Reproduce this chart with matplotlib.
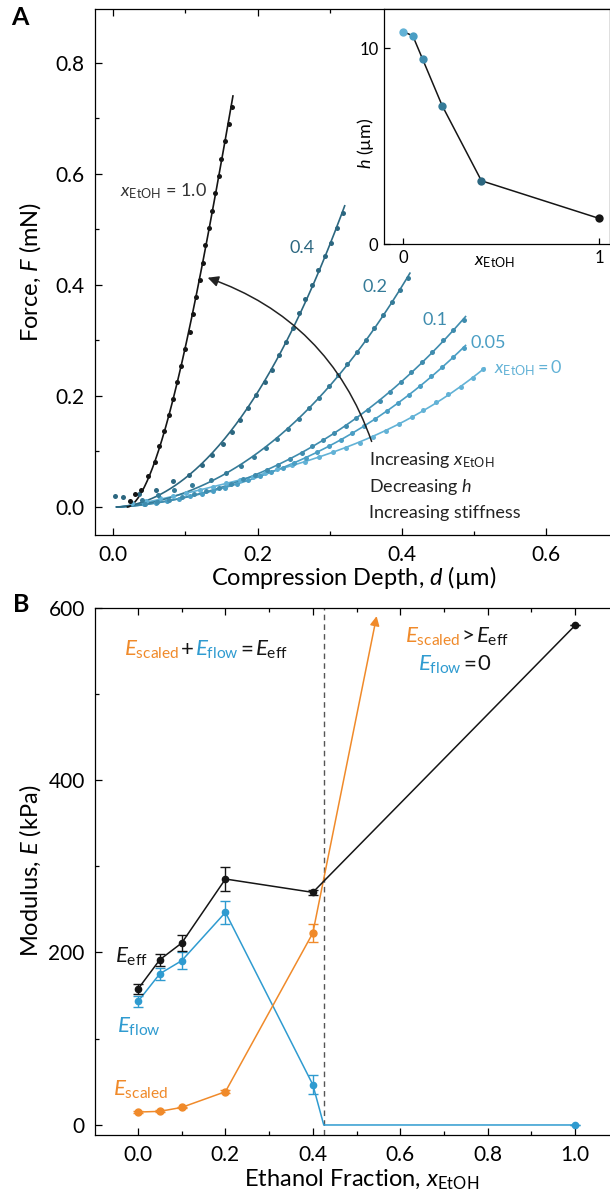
import numpy as np
import matplotlib
matplotlib.use("Agg")
import matplotlib.pyplot as plt
from matplotlib import font_manager as fm
from matplotlib.patches import FancyArrowPatch
from matplotlib.offsetbox import TextArea, HPacker, AnnotationBbox
from matplotlib.ticker import MultipleLocator, FormatStrFormatter


def find_italic(cands):
    for name in cands:
        for f in fm.fontManager.ttflist:
            if f.name == name and f.style == 'italic' and f.weight == 400:
                return name
    return 'DejaVu Sans'


it_family = find_italic(['Lato', 'Carlito', 'Open Sans', 'Noto Sans', 'Roboto',
                         'Liberation Sans', 'DejaVu Sans'])

plt.rcParams['font.family'] = ['Lato', 'DejaVu Sans']
plt.rcParams['mathtext.fontset'] = 'custom'
plt.rcParams['mathtext.rm'] = 'Lato'
plt.rcParams['mathtext.it'] = it_family + ':style=italic:weight=normal'
plt.rcParams['mathtext.bf'] = 'Lato:bold'

# ---- panel A: force vs compression depth ----
d_10 = [0.024, 0.030, 0.039, 0.048, 0.0575, 0.064, 0.071, 0.077, 0.083, 0.089,
        0.0946, 0.100, 0.106, 0.111, 0.115, 0.120, 0.124, 0.128, 0.133, 0.137,
        0.141, 0.146, 0.150, 0.155, 0.160, 0.164]
F_10 = [0.010, 0.023, 0.030, 0.055, 0.081, 0.109, 0.136, 0.166, 0.195, 0.225,
        0.254, 0.285, 0.316, 0.347, 0.378, 0.409, 0.440, 0.471, 0.502, 0.534,
        0.566, 0.596, 0.627, 0.659, 0.690, 0.721]

d_04 = [0.003, 0.014, 0.036, 0.0595, 0.0835, 0.105, 0.1226, 0.137, 0.1517, 0.1646,
        0.176, 0.187, 0.198, 0.2098, 0.2206, 0.2297, 0.240, 0.2486, 0.257, 0.266,
        0.275, 0.284, 0.293, 0.302, 0.310, 0.3187]
F_04 = [0.019, 0.0175, 0.024, 0.031, 0.046, 0.058, 0.076, 0.094, 0.114, 0.1346,
        0.156, 0.179, 0.2018, 0.2246, 0.247, 0.273, 0.297, 0.322, 0.349, 0.375,
        0.400, 0.426, 0.452, 0.475, 0.502, 0.530]

d_02 = [0.040, 0.0627, 0.085, 0.110, 0.136, 0.157, 0.1765, 0.1947, 0.2115, 0.227,
        0.242, 0.2572, 0.2716, 0.2852, 0.2987, 0.311, 0.3245, 0.3375, 0.350, 0.3617,
        0.374, 0.3865, 0.3967, 0.409]
F_02 = [0.013, 0.022, 0.030, 0.0396, 0.0486, 0.0607, 0.0745, 0.0896, 0.1058, 0.122,
        0.140, 0.158, 0.178, 0.196, 0.218, 0.238, 0.2577, 0.280, 0.301, 0.322,
        0.346, 0.370, 0.391, 0.4126]

d_01 = [0.044, 0.061, 0.078, 0.095, 0.112, 0.129, 0.146, 0.163, 0.180, 0.197,
        0.213, 0.229, 0.245, 0.261, 0.276, 0.291, 0.306, 0.322, 0.337, 0.353,
        0.369, 0.384, 0.399, 0.413, 0.428, 0.442, 0.457, 0.471, 0.486]
F_01 = [0.006, 0.009, 0.013, 0.018, 0.023, 0.029, 0.035, 0.042, 0.050, 0.058,
        0.067, 0.076, 0.086, 0.097, 0.109, 0.121, 0.133, 0.146, 0.160, 0.175,
        0.191, 0.208, 0.226, 0.244, 0.262, 0.280, 0.300, 0.318, 0.337]

d_005 = [0.043, 0.059, 0.075, 0.091, 0.107, 0.123, 0.139, 0.155, 0.171, 0.187,
         0.203, 0.219, 0.235, 0.251, 0.267, 0.283, 0.299, 0.315, 0.331, 0.347,
         0.363, 0.379, 0.395, 0.410, 0.425, 0.440, 0.456, 0.470, 0.486]
F_005 = [0.005, 0.008, 0.011, 0.015, 0.019, 0.024, 0.029, 0.035, 0.041, 0.048,
         0.055, 0.063, 0.071, 0.080, 0.089, 0.099, 0.110, 0.121, 0.133, 0.145,
         0.158, 0.172, 0.187, 0.202, 0.218, 0.236, 0.253, 0.270, 0.286]

d_00 = [0.0267, 0.0456, 0.0644, 0.0833, 0.101, 0.120, 0.1387, 0.157, 0.1758, 0.1936,
        0.2098, 0.2276, 0.2475, 0.2663, 0.2852, 0.304, 0.323, 0.3418, 0.3595, 0.378,
        0.3956, 0.4134, 0.4296, 0.447, 0.464, 0.4817, 0.498, 0.5125]
F_00 = [0.0078, 0.0114, 0.0156, 0.0198, 0.0246, 0.0306, 0.0366, 0.0426, 0.0486, 0.0546,
        0.0607, 0.068, 0.075, 0.0816, 0.0906, 0.0985, 0.1068, 0.1159, 0.1267, 0.1375,
        0.1495, 0.1616, 0.1748, 0.1886, 0.203, 0.217, 0.232, 0.248]

# ---- inset: gel height vs ethanol fraction ----
x_etoh = [0, 0.05, 0.1, 0.2, 0.4, 1.0]
h_um = [10.85, 10.63, 9.44, 7.06, 3.23, 1.31]

# ---- panel B: moduli ----
x_B = [0, 0.05, 0.1, 0.2, 0.4, 1.0]
E_eff = [157.7, 191.7, 211.0, 285.2, 269.7, 579.2]
E_eff_err = [6, 7, 9, 14, 3, 0]
x_flow = [0, 0.05, 0.1, 0.2, 0.4, 1.0]
E_flow = [143.3, 175.4, 190.5, 246.5, 46.7, 0.0]
E_flow_err = [6.5, 7, 9.5, 13.5, 11, 0]
x_cut = 0.425
x_scaled = [0, 0.05, 0.1, 0.2, 0.4]
E_scaled = [15.0, 15.8, 20.4, 38.6, 222.6]
E_scaled_err = [1, 1, 1, 2, 10]
arrow_tip = (0.546, 590)

c_A = {'1.0': '#151515', '0.4': '#2c6780', '0.2': '#357b98',
       '0.1': '#3f8cae', '0.05': '#4a9ec4', '0': '#62b2d6'}
orange = '#f08a2a'
blue = '#2f9bd0'
black = '#151515'

series = [('0', d_00, F_00, 0.005), ('0.05', d_005, F_005, 0.005),
          ('0.1', d_01, F_01, 0.005), ('0.2', d_02, F_02, 0.005),
          ('0.4', d_04, F_04, 0.005), ('1.0', d_10, F_10, 0.02)]


def curve_fit_line(d, F, d0):
    # least squares with F = c1*u^1.5 + c2*u^2 + c3*u^3, u = d - d0
    d = np.asarray(d); F = np.asarray(F)
    m = F > 0.03
    u = d[m] - d0
    A = np.column_stack([u ** 1.5, u ** 2, u ** 3])
    coef = np.linalg.lstsq(A, F[m], rcond=None)[0]
    uu = np.linspace(0, d.max() + 0.002 - d0, 200)
    return uu + d0, np.column_stack([uu ** 1.5, uu ** 2, uu ** 3]) @ coef


def style_ax(ax, ls=15):
    for s in ['top', 'bottom', 'left', 'right']:
        ax.spines[s].set_linewidth(0.9)
    ax.spines['right'].set_visible(False)
    ax.tick_params(which='both', direction='in', top=True, right=False, width=0.9,
                   labelsize=ls)
    ax.tick_params(which='major', length=5, pad=7)
    ax.tick_params(which='minor', length=3)


fig = plt.figure(figsize=(6.1, 11.98), dpi=100)

# ================= Panel A =================
axA = fig.add_axes([0.155, 0.5534, 0.845, 0.4391])
for key, d, F, d0 in series:
    xx, yy = curve_fit_line(d, F, d0)
    axA.plot(xx, yy, color=c_A[key], lw=1.2, zorder=2)
    axA.plot(d, F, 'o', color=c_A[key], ms=3.6, mec='none', zorder=3)

axA.set_xlim(-0.0256, 0.688)
axA.set_ylim(-0.0505, 0.897)
axA.xaxis.set_major_locator(MultipleLocator(0.2))
axA.xaxis.set_minor_locator(MultipleLocator(0.1))
axA.yaxis.set_major_locator(MultipleLocator(0.2))
axA.yaxis.set_minor_locator(MultipleLocator(0.1))
axA.xaxis.set_major_formatter(FormatStrFormatter('%.1f'))
axA.yaxis.set_major_formatter(FormatStrFormatter('%.1f'))
style_ax(axA)
axA.set_xlabel('Compression Depth, $d$ (µm)', fontsize=17)
axA.set_ylabel('Force, $F$ (mN)', fontsize=17)
axA.xaxis.set_label_coords(0.503, -0.08)
axA.xaxis.label.set_va('center')
axA.yaxis.set_label_coords(-0.125, 0.5)
axA.yaxis.label.set_va('center')

axA.text(0.070, 0.568, r'$x_{\mathrm{EtOH}}$ = 1.0', fontsize=13, color='#333333',
         ha='center', va='center')
axA.text(0.261, 0.467, '0.4', fontsize=13, color=c_A['0.4'], ha='center', va='center')
axA.text(0.3626, 0.396, '0.2', fontsize=13, color=c_A['0.2'], ha='center', va='center')
axA.text(0.4457, 0.337, '0.1', fontsize=13, color=c_A['0.1'], ha='center', va='center')
axA.text(0.5195, 0.295, '0.05', fontsize=13, color=c_A['0.05'], ha='center', va='center')
axA.text(0.527, 0.25, r'$x_{\mathrm{EtOH}}$$=$0', fontsize=13, color=c_A['0'],
         ha='left', va='center')

axA.text(0.355, 0.0847, r'Increasing $x_{\mathrm{EtOH}}$', fontsize=13, color='#222222',
         ha='left', va='center')
axA.text(0.355, 0.0366, r'Decreasing $h$', fontsize=13, color='#222222',
         ha='left', va='center')
axA.text(0.355, -0.0114, 'Increasing stiffness', fontsize=13, color='#222222',
         ha='left', va='center')

arrA = FancyArrowPatch((0.358, 0.118), (0.131, 0.413), connectionstyle='arc3,rad=0.24',
                       arrowstyle='-|>', mutation_scale=16, lw=1.1, color='#222222',
                       shrinkA=0, shrinkB=0, zorder=4)
axA.add_patch(arrA)
fig.text(0.033, 0.985, 'A', fontsize=18, fontweight='bold', ha='center', va='center')

# ---- inset ----
axI = fig.add_axes([0.6295, 0.7963, 0.3705, 0.1962])
axI.plot(x_etoh, h_um, '-', color=black, lw=1.1, zorder=2)
for xv, hv, key in zip(x_etoh, h_um, ['0', '0.05', '0.1', '0.2', '0.4', '1.0']):
    axI.plot(xv, hv, 'o', color=c_A[key], ms=6, mec='none', zorder=3)
axI.set_xlim(-0.097, 1.056)
axI.set_ylim(0, 12)
axI.set_xticks([0, 1])
axI.set_yticks([0, 10])
for s in ['top', 'bottom', 'left', 'right']:
    axI.spines[s].set_linewidth(0.9)
axI.tick_params(direction='in', length=4, width=0.9, labelsize=12, pad=4)
axI.set_xlabel(r'$x_{\mathrm{EtOH}}$', fontsize=13)
axI.xaxis.set_label_coords(0.49, -0.075)
axI.xaxis.label.set_va('center')
axI.set_ylabel(r'$h$ (µm)', fontsize=13)
axI.yaxis.set_label_coords(-0.08, 0.43)
axI.yaxis.label.set_va('center')

# ================= Panel B =================
axB = fig.add_axes([0.155, 0.0526, 0.845, 0.4403])
axB.axvline(x_cut, color='#555555', lw=1.0, ls=(0, (4, 3)), zorder=1)
axB.errorbar(x_B, E_eff, yerr=E_eff_err, fmt='-o', color=black, lw=1.1, ms=4.5,
             capsize=3.5, elinewidth=1.0, capthick=1.0, zorder=4)
axB.plot(x_flow[:5] + [x_cut] + x_flow[5:], E_flow[:5] + [0.0] + E_flow[5:],
         '-', color=blue, lw=1.1, zorder=3)
axB.errorbar(x_flow, E_flow, yerr=E_flow_err, fmt='o', color=blue, ms=4.5,
             capsize=3.5, elinewidth=1.0, capthick=1.0, zorder=3)
axB.errorbar(x_scaled, E_scaled, yerr=E_scaled_err, fmt='-o', color=orange, lw=1.1,
             ms=5, capsize=3.5, elinewidth=1.0, capthick=1.0, zorder=3)
axB.annotate('', xy=arrow_tip, xytext=(x_scaled[-1], E_scaled[-1]),
             arrowprops=dict(arrowstyle='-|>', color=orange, lw=1.1, mutation_scale=14,
                             shrinkA=0, shrinkB=0), zorder=3)

axB.set_xlim(-0.0995, 1.08)
axB.set_ylim(-11.6, 600)
axB.xaxis.set_major_locator(MultipleLocator(0.2))
axB.xaxis.set_minor_locator(MultipleLocator(0.1))
axB.yaxis.set_major_locator(MultipleLocator(200))
axB.yaxis.set_minor_locator(MultipleLocator(100))
axB.xaxis.set_major_formatter(FormatStrFormatter('%.1f'))
style_ax(axB)
axB.set_xlabel(r'Ethanol Fraction, $x_{\mathrm{EtOH}}$', fontsize=17)
axB.set_ylabel('Modulus, $E$ (kPa)', fontsize=17)
axB.xaxis.set_label_coords(0.519, -0.085)
axB.xaxis.label.set_va('center')
axB.yaxis.set_label_coords(-0.125, 0.5)
axB.yaxis.label.set_va('center')
fig.text(0.034, 0.495, 'B', fontsize=18, fontweight='bold', ha='center', va='center')


def colored_text(ax, xy, parts, fs=16):
    boxes = [TextArea(s, textprops=dict(color=c, fontsize=fs)) for s, c in parts]
    pack = HPacker(children=boxes, align='baseline', pad=0, sep=1)
    ab = AnnotationBbox(pack, xy, xycoords='data', box_alignment=(0, 0.5),
                        frameon=False, pad=0)
    ax.add_artist(ab)


colored_text(axB, (-0.032, 551), [(r'$E_{\mathrm{scaled}}$', orange), ('+', black),
                                  (r'$E_{\mathrm{flow}}$', blue), ('=', black),
                                  (r'$E_{\mathrm{eff}}$', black)])
colored_text(axB, (0.611, 566), [(r'$E_{\mathrm{scaled}}$', orange), ('>', black),
                                 (r'$E_{\mathrm{eff}}$', black)])
colored_text(axB, (0.641, 534), [(r'$E_{\mathrm{flow}}$', blue), ('=', black),
                                 ('0', black)])
colored_text(axB, (-0.053, 195), [(r'$E_{\mathrm{eff}}$', black)])
colored_text(axB, (-0.048, 114), [(r'$E_{\mathrm{flow}}$', blue)])
colored_text(axB, (-0.057, 41), [(r'$E_{\mathrm{scaled}}$', orange)])

fig.savefig('out.png', dpi=100)
